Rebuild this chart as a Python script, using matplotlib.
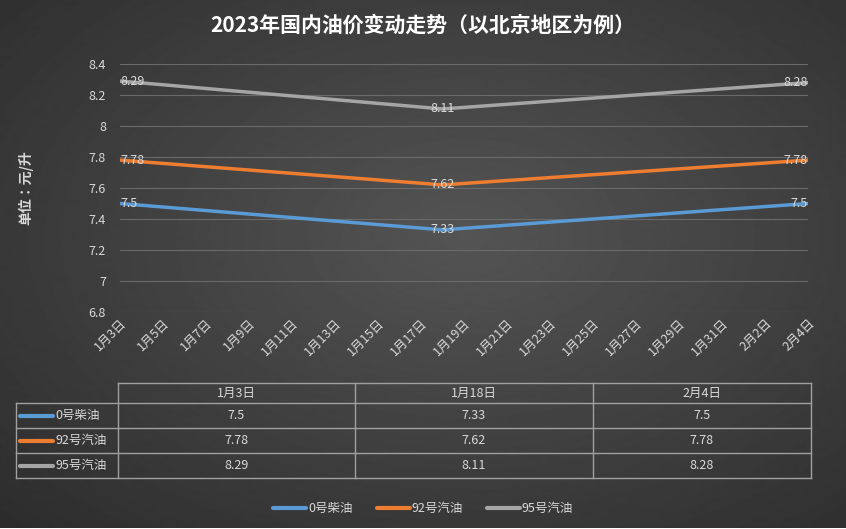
import numpy as np
import matplotlib.pyplot as plt
from datetime import date, timedelta

plt.rcParams["font.family"] = ["Noto Sans CJK SC", "Noto Sans CJK JP", "DejaVu Sans"]

dates = [date(2023, 1, 3), date(2023, 1, 18), date(2023, 2, 4)]
date_labels = ["1月3日", "1月18日", "2月4日"]
series_names = ["0号柴油", "92号汽油", "95号汽油"]
diesel_0 = [7.5, 7.33, 7.5]
gas_92 = [7.78, 7.62, 7.78]
gas_95 = [8.29, 8.11, 8.28]
series = [diesel_0, gas_92, gas_95]
colors = ["#5b9bd5", "#ed7d31", "#a5a5a5"]

W, H = 846, 529
fig = plt.figure(figsize=(W / 100, H / 100), dpi=100)

# radial gradient background
bg = fig.add_axes([0, 0, 1, 1])
yy, xx = np.mgrid[0:H, 0:W]
r = np.sqrt(((xx - W * 0.55) / W) ** 2 + ((yy - H * 0.45) / H) ** 2)
bg.imshow(0.33 - 0.2 * r, cmap="gray", vmin=0, vmax=1, aspect="auto")
bg.axis("off")

def fx(px):
    return px / W

def fy(py):
    return 1 - py / H

ax = fig.add_axes([fx(120), fy(312), fx(808) - fx(120), fy(64) - fy(312)])
ax.patch.set_alpha(0)
x0, x1 = date(2023, 1, 3), date(2023, 2, 4)
aligns = ["left", "center", "right"]
for vals, c in zip(series, colors):
    ax.plot(dates, vals, color=c, lw=2.5)
    for d, v, ha in zip(dates, vals, aligns):
        ax.text(d, v, f"{v:g}", color="#d9d9d9", fontsize=9, ha=ha, va="center")
ax.set_xlim(x0, x1)
ax.set_ylim(6.8, 8.4)
ax.set_yticks(np.arange(6.8, 8.41, 0.2))
ax.set_yticklabels([f"{t:g}" for t in np.arange(6.8, 8.41, 0.2)])
ticks = [x0 + timedelta(days=2 * i) for i in range(17)]
ax.set_xticks(ticks)
ax.set_xticklabels([f"{t.month}月{t.day}日" for t in ticks], rotation=45, ha="right",
                   rotation_mode="anchor")
ax.grid(axis="y", color="#6a6a6a", lw=0.8)
for s in ax.spines.values():
    s.set_visible(False)
ax.tick_params(colors="#d9d9d9", labelsize=9, length=0)
ax.tick_params(axis="y", pad=10)
ax.set_ylabel("单位：元/升", color="#d9d9d9", fontsize=10, fontweight="bold", labelpad=40)

fig.text(0.5, fy(25), "2023年国内油价变动走势（以北京地区为例）", color="white",
         fontsize=15, fontweight="bold", ha="center", va="center")

# data table
lc = "#a0a0a0"
cols = [118, 355, 593, 811]
rows = [383, 403, 428, 453, 478]
bg.set_xlim(0, W)
bg.set_ylim(H, 0)
bg.plot([cols[0], cols[-1]], [rows[0], rows[0]], color=lc, lw=1)
for ry in rows[1:]:
    bg.plot([16, cols[-1]], [ry, ry], color=lc, lw=1)
for cx in cols:
    bg.plot([cx, cx], [rows[0], rows[-1]], color=lc, lw=1)
bg.plot([16, 16], [rows[1], rows[-1]], color=lc, lw=1)
for j, lab in enumerate(date_labels):
    bg.text((cols[j] + cols[j + 1]) / 2, (rows[0] + rows[1]) / 2, lab, color="#d9d9d9",
            fontsize=9, ha="center", va="center")
for i, (name, vals, c) in enumerate(zip(series_names, series, colors)):
    cy = (rows[i + 1] + rows[i + 2]) / 2
    bg.plot([20, 53], [cy, cy], color=c, lw=3, solid_capstyle="round")
    bg.text(55, cy, name, color="#d9d9d9", fontsize=9, va="center")
    for j, v in enumerate(vals):
        bg.text((cols[j] + cols[j + 1]) / 2, cy, f"{v:g}", color="#d9d9d9",
                fontsize=9, ha="center", va="center")

# legend
lx = [273, 377, 487]
for x, name, c in zip(lx, series_names, colors):
    bg.plot([x, x + 33], [508, 508], color=c, lw=3, solid_capstyle="round")
    bg.text(x + 35, 508, name, color="#d9d9d9", fontsize=9, va="center")

fig.savefig("out.png", dpi=100)
